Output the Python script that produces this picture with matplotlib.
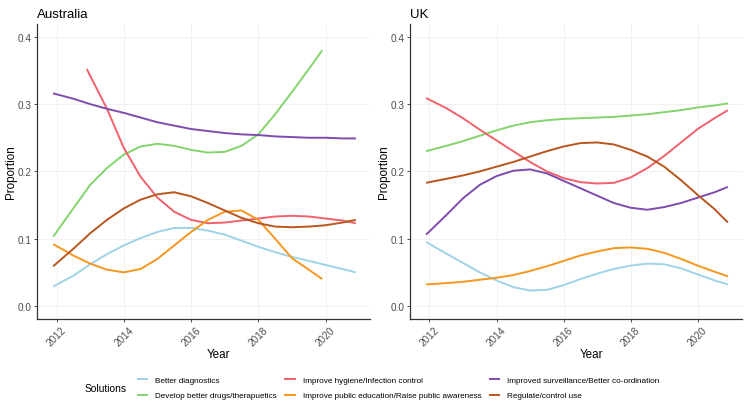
import matplotlib
matplotlib.use("Agg")
import matplotlib.pyplot as plt

plt.rcParams['font.family'] = ['Liberation Sans', 'DejaVu Sans']

# yearly readings (half-year steps) of the smoothed curves
years = [2011.9, 2012.5, 2013, 2013.5, 2014, 2014.5, 2015, 2015.5, 2016, 2016.5,
         2017, 2017.5, 2018, 2018.5, 2019, 2019.5, 2020, 2020.5, 2020.9]
years_to_2019 = years[:16] + [2019.9]
years_from_2013 = [2012.9] + years[3:]

solutions = ["Better diagnostics", "Develop better drugs/therapuetics",
             "Improve hygiene/Infection control",
             "Improve public education/Raise public awareness",
             "Improved surveillance/Better co-ordination", "Regulate/control use"]
colors = ["#9fd3e8", "#83d46c", "#f2616b", "#f7971e", "#7e4cae", "#b9561f"]

# Australia
au_diag = [0.029, 0.045, 0.062, 0.077, 0.090, 0.101, 0.110, 0.116, 0.116, 0.112,
           0.106, 0.097, 0.088, 0.080, 0.073, 0.067, 0.061, 0.055, 0.050]
au_drugs = [0.103, 0.145, 0.180, 0.205, 0.225, 0.237, 0.241, 0.238, 0.232, 0.228,
            0.229, 0.238, 0.255, 0.285, 0.318, 0.352, 0.380]
au_hygiene = [0.352, 0.293, 0.235, 0.192, 0.161, 0.140, 0.128, 0.123, 0.124,
              0.127, 0.130, 0.133, 0.134, 0.133, 0.130, 0.127, 0.123]
au_educ = [0.092, 0.075, 0.063, 0.054, 0.050, 0.055, 0.070, 0.090, 0.110, 0.128,
           0.140, 0.142, 0.128, 0.100, 0.071, 0.054, 0.040]
au_surv = [0.316, 0.308, 0.300, 0.293, 0.287, 0.280, 0.273, 0.268, 0.263, 0.260,
           0.257, 0.255, 0.254, 0.252, 0.251, 0.250, 0.250, 0.249, 0.249]
au_reg = [0.059, 0.085, 0.108, 0.128, 0.145, 0.158, 0.166, 0.169, 0.163, 0.153,
          0.142, 0.131, 0.123, 0.118, 0.117, 0.118, 0.120, 0.124, 0.128]

# UK
uk_diag = [0.095, 0.078, 0.064, 0.050, 0.038, 0.028, 0.023, 0.024, 0.031, 0.040,
           0.048, 0.055, 0.060, 0.063, 0.062, 0.056, 0.047, 0.038, 0.032]
uk_drugs = [0.230, 0.238, 0.245, 0.253, 0.261, 0.268, 0.273, 0.276, 0.278, 0.279,
            0.280, 0.281, 0.283, 0.285, 0.288, 0.291, 0.295, 0.298, 0.301]
uk_hygiene = [0.309, 0.294, 0.279, 0.262, 0.246, 0.230, 0.214, 0.200, 0.190, 0.184,
              0.182, 0.183, 0.191, 0.205, 0.223, 0.243, 0.263, 0.279, 0.291]
uk_educ = [0.032, 0.034, 0.036, 0.039, 0.042, 0.046, 0.052, 0.059, 0.067, 0.075,
           0.081, 0.086, 0.087, 0.085, 0.079, 0.070, 0.060, 0.051, 0.044]
uk_surv = [0.106, 0.135, 0.160, 0.180, 0.193, 0.201, 0.203, 0.197, 0.186, 0.175,
           0.164, 0.153, 0.146, 0.143, 0.147, 0.153, 0.161, 0.169, 0.177]
uk_reg = [0.183, 0.189, 0.194, 0.200, 0.207, 0.214, 0.222, 0.230, 0.237, 0.242,
          0.243, 0.240, 0.232, 0.222, 0.207, 0.187, 0.165, 0.144, 0.124]

panels = [
    ("Australia", [(years, au_diag), (years_to_2019, au_drugs), (years_from_2013, au_hygiene),
                   (years_to_2019, au_educ), (years, au_surv), (years, au_reg)]),
    ("UK", [(years, uk_diag), (years, uk_drugs), (years, uk_hygiene),
            (years, uk_educ), (years, uk_surv), (years, uk_reg)]),
]

W, H = 748, 406
fig = plt.figure(figsize=(W / 100, H / 100), dpi=100)
boxes = [(37, 25, 370, 320), (410, 25, 742, 320)]

lines = []
for (title, series), (x0, y0, x1, y1) in zip(panels, boxes):
    ax = fig.add_axes([x0 / W, 1 - y1 / H, (x1 - x0) / W, (y1 - y0) / H])
    for (xs, ys), c in zip(series, colors):
        ln, = ax.plot(xs, ys, color=c, lw=1.4, solid_capstyle='butt',
                      solid_joinstyle='round')
        lines.append(ln)
    ax.set_xlim(2011.42, 2021.32)
    ax.set_ylim(-0.0193, 0.419)
    ax.set_xticks([2012, 2014, 2016, 2018, 2020])
    ax.set_yticks([0.0, 0.1, 0.2, 0.3, 0.4])
    ax.set_yticklabels(["0.0", "0.1", "0.2", "0.3", "0.4"])
    ax.grid(True, color="#efefef", lw=0.6)
    ax.set_axisbelow(True)
    for s in ("top", "right"):
        ax.spines[s].set_visible(False)
    for s in ("left", "bottom"):
        ax.spines[s].set_color("#333333")
        ax.spines[s].set_linewidth(0.9)
    ax.tick_params(labelsize=7.2, labelcolor="#4d4d4d", color="#333333",
                   length=2.5, width=0.6, pad=1.5)
    for lab in ax.get_xticklabels():
        lab.set_rotation(45)
        lab.set_ha("center")
        lab.set_va("top")
    ax.set_title(title, loc="left", fontsize=9.5, pad=5)
    ax.set_xlabel("Year", fontsize=8.4)
    ax.xaxis.set_label_coords(0.546, -0.119)
    ax.xaxis.label.set_va("center")
    ax.set_ylabel("Proportion", fontsize=8.4)
    ax.yaxis.set_label_coords(-0.078, 0.5)
    ax.yaxis.label.set_va("center")

fig.text(85 / W, 1 - 389 / H, "Solutions", fontsize=7.4, va="center", ha="left")
fig.legend(lines[:6], solutions, ncol=3, loc="center left",
           bbox_to_anchor=(137 / W, 1 - 388.6 / H), frameon=False, fontsize=5.9,
           handlelength=1.4, handletextpad=0.85, columnspacing=0.9,
           labelspacing=1.0, borderpad=0, borderaxespad=0)

fig.savefig("out.png", dpi=100)
